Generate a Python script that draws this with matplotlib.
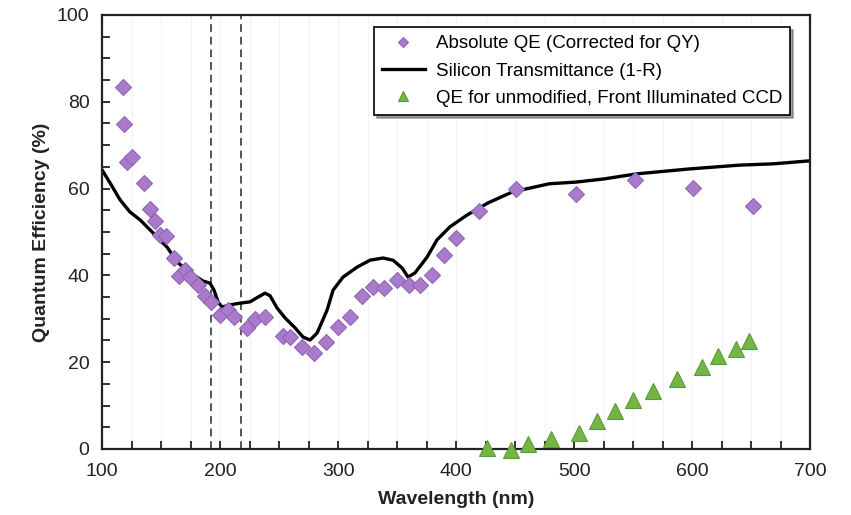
"""Quantum efficiency vs wavelength: absolute QE, Si transmittance, FI CCD."""

import matplotlib

matplotlib.use("Agg")
import matplotlib.pyplot as plt
from matplotlib.ticker import MultipleLocator

plt.rcParams["font.family"] = ["Liberation Sans", "DejaVu Sans"]

# --- data ---
qe_wl = [117.8, 118.6, 121.2, 125.4, 135.6, 140.7, 144.9, 149.2, 154.2, 161.0,
         165.3, 170.3, 174.6, 181.4, 187.3, 192.4, 200.0, 206.8, 211.9, 222.9,
         229.7, 238.1, 253.4, 259.3, 269.5, 279.7, 289.8, 300.0, 310.2, 320.4,
         329.7, 339.0, 350.0, 360.2, 369.5, 379.7, 389.8, 400.0, 419.5, 450.9,
         501.7, 551.7, 600.9, 651.7]
qe_abs = [83.4, 74.9, 66.1, 67.3, 61.3, 55.3, 52.5, 49.3, 49.1, 44.0,
          39.9, 41.2, 39.6, 37.8, 35.3, 33.9, 30.9, 32.0, 30.4, 27.9,
          30.0, 30.4, 26.0, 25.8, 23.5, 22.1, 24.7, 28.1, 30.4, 35.3,
          37.3, 37.1, 38.9, 37.8, 37.8, 40.1, 44.7, 48.6, 54.8, 59.9,
          58.8, 62.0, 60.1, 56.0]

si_wl = [100.0, 106.8, 115.3, 123.7, 132.2, 143.2, 155.1, 164.4, 174.6, 185.6,
         191.5, 194.9, 198.3, 201.7, 208.5, 217.0, 225.4, 232.2, 238.1, 242.4,
         248.3, 255.1, 263.6, 270.3, 276.3, 282.2, 286.4, 290.7, 295.8, 304.2,
         316.1, 327.1, 338.1, 346.6, 354.3, 359.3, 365.3, 375.4, 383.9, 394.9,
         409.3, 427.1, 447.5, 478.8, 501.7, 524.6, 553.4, 596.6, 639.9, 668.7,
         700.0]
si_trans = [64.3, 61.3, 57.4, 54.6, 52.8, 49.8, 46.5, 42.9, 40.6, 38.7,
            38.2, 36.6, 33.9, 32.7, 33.2, 33.6, 33.9, 35.0, 35.9, 35.3,
            32.5, 30.2, 27.9, 25.8, 25.1, 26.7, 29.3, 32.0, 36.6, 39.6,
            41.9, 43.5, 44.0, 43.5, 41.7, 39.6, 40.6, 44.2, 48.2, 51.2,
            53.9, 56.7, 59.2, 61.1, 61.5, 62.2, 63.4, 64.5, 65.4, 65.7,
            66.4]

fi_wl = [426.3, 446.6, 461.0, 480.5, 504.3, 519.5, 534.8, 550.0, 567.0, 587.3,
         608.5, 622.0, 637.3, 648.3]
fi_qe = [0.3, -0.3, 1.2, 2.3, 3.7, 6.5, 8.8, 11.3, 13.4, 16.1,
         18.9, 21.4, 23.0, 24.9]

markers_wl = [192, 218]  # dashed reference lines

fig = plt.figure(figsize=(8.51, 5.15), dpi=100)
ax = fig.add_axes([0.1199, 0.1282, 0.8320, 0.8427])

for x in range(100, 701, 25):
    ax.axvline(x, color="#f3f3f3", lw=0.8, zorder=0)

for x in markers_wl:
    ax.axvline(x, color="#555555", lw=1.4, ls=(0, (4, 2.5)), zorder=1)

ax.plot(qe_wl, qe_abs, ls="none", marker="D", ms=8.5, mfc="#A97CCB",
        mec="#9563B8", mew=0.8, label="Absolute QE (Corrected for QY)", zorder=3)
ax.plot(si_wl, si_trans, color="black", lw=2.4,
        label="Silicon Transmittance (1-R)", zorder=2)
ax.plot(fi_wl, fi_qe, ls="none", marker="^", ms=11, mfc="#74B545",
        mec="#5A9B35", mew=0.8, label="QE for unmodified, Front Illuminated CCD",
        zorder=3, clip_on=False)

ax.set_xlim(100, 700)
ax.set_ylim(0, 100)
ax.xaxis.set_major_locator(MultipleLocator(100))
ax.xaxis.set_minor_locator(MultipleLocator(25))
ax.yaxis.set_major_locator(MultipleLocator(20))
ax.yaxis.set_minor_locator(MultipleLocator(5))
ax.tick_params(which="both", direction="in", length=6, width=1.3, color="#222222",
               labelsize=14, labelcolor="#222222", top=False, right=False)
ax.tick_params(axis="x", pad=10)
ax.tick_params(axis="y", pad=9)

for s in ax.spines.values():
    s.set_linewidth(1.6)
    s.set_color("#222222")

ax.set_xlabel("Wavelength (nm)", fontsize=14, fontweight="bold", color="#222222",
              labelpad=8)
ax.set_ylabel("Quantum Efficiency (%)", fontsize=14, fontweight="bold",
              color="#222222", labelpad=5)

leg = ax.legend(loc="upper right", bbox_to_anchor=(0.972, 0.972), fontsize=13.5,
                frameon=True, fancybox=False, shadow=True, borderpad=0.42,
                labelspacing=0.55, handlelength=2.3, handletextpad=0.6,
                borderaxespad=0, markerscale=0.6)
leg.get_frame().set_edgecolor("black")
leg.get_frame().set_linewidth(1.2)

fig.savefig("out.png", dpi=100)
